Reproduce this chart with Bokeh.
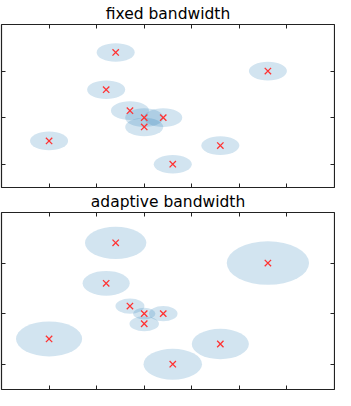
from bokeh.plotting import figure
from bokeh.layouts import column
from bokeh.models import Range1d, FixedTicker, LinearAxis, ColumnDataSource
from bokeh.embed import file_html
from bokeh.resources import INLINE

# data
xs = [-0.6, 2.6, -0.8, -0.3, 0.0, 0.4, 0.0, -2.0, 1.6, 0.6]
ys = [1.4, 1.0, 0.6, 0.15, 0.0, 0.0, -0.2, -0.5, -0.6, -1.0]
fixed_w = [0.8, 0.8, 0.8, 0.8, 0.8, 0.8, 0.8, 0.8, 0.8, 0.8]
fixed_h = [0.4, 0.4, 0.4, 0.4, 0.4, 0.4, 0.4, 0.4, 0.4, 0.4]
adapt_w = [1.29, 1.73, 0.99, 0.61, 0.47, 0.60, 0.62, 1.39, 1.20, 1.23]
adapt_h = [0.64, 0.86, 0.49, 0.30, 0.23, 0.30, 0.30, 0.69, 0.60, 0.61]
titles = ["fixed bandwidth", "adaptive bandwidth"]
x_ticks = [-2, -1, 0, 1, 2, 3]
y_ticks = [-1, 0, 1]


def make(title, w, h, height, top_border):
    p = figure(width=335, height=height, output_backend="svg", toolbar_location=None,
               x_range=Range1d(-3, 4), y_range=Range1d(-1.5, 2),
               x_axis_location=None, y_axis_location=None,
               min_border_left=1, min_border_right=1, min_border_top=top_border,
               min_border_bottom=1)
    p.title.text = title
    p.title.align = "center"
    p.title.text_font = "DejaVu Sans"
    p.title.text_font_size = "15.5px"
    p.title.text_font_style = "normal"
    p.title.text_color = "black"
    p.title.standoff = 4
    p.grid.visible = False
    p.outline_line_color = "#222222"
    p.outline_line_width = 1.2
    p.outline_line_alpha = 1
    for loc in ["left", "right", "above", "below"]:
        ticks = x_ticks if loc in ("above", "below") else y_ticks
        ax = LinearAxis()
        ax.ticker = FixedTicker(ticks=ticks)
        ax.major_label_overrides = {t: "" for t in ticks}
        ax.minor_tick_line_color = None
        ax.major_tick_in = 4
        ax.major_tick_out = 0
        ax.major_tick_line_color = "#222222"
        ax.axis_line_color = None
        ax.major_label_text_font_size = "1px"
        ax.major_label_standoff = 0
        p.add_layout(ax, loc)
    src = ColumnDataSource(dict(x=xs, y=ys, w=w, h=h))
    p.ellipse(x="x", y="y", width="w", height="h", source=src,
              fill_color="#1f77b4", fill_alpha=0.2, line_color=None)
    p.scatter(x="x", y="y", source=src, marker="x", size=9,
              line_color="#ff3333", line_width=1.3)
    return p


p1 = make(titles[0], fixed_w, fixed_h, 188, 0)
p2 = make(titles[1], adapt_w, adapt_h, 202, 14)
layout = column(p1, p2, spacing=0)

open("out.html", "w").write(file_html(layout, INLINE))
